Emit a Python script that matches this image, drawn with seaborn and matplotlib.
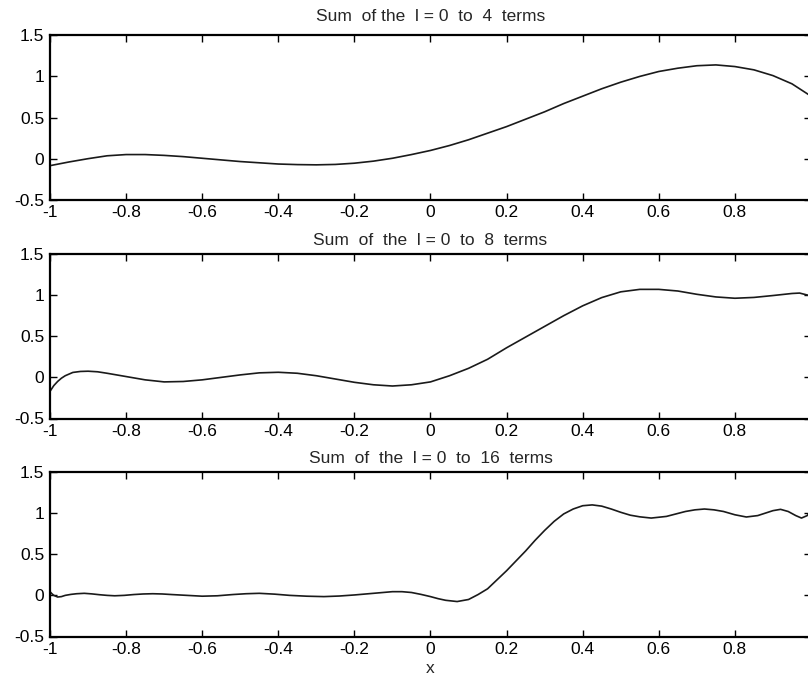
import numpy as np
import pandas as pd
import matplotlib
matplotlib.use("Agg")
import matplotlib.pyplot as plt
import seaborn as sns

# ---- data ----
x4 = [-1.0, -0.95, -0.9, -0.85, -0.8, -0.75, -0.7, -0.65, -0.6, -0.55, -0.5, -0.45,
      -0.4, -0.35, -0.3, -0.25, -0.2, -0.15, -0.1, -0.05, 0.0, 0.05, 0.1, 0.15, 0.2,
      0.25, 0.3, 0.35, 0.4, 0.45, 0.5, 0.55, 0.6, 0.65, 0.7, 0.75, 0.8, 0.85, 0.9,
      0.95, 1.0]
y4 = [-0.085, -0.04, 0.0, 0.035, 0.05, 0.05, 0.04, 0.025, 0.005, -0.015, -0.035, -0.05,
      -0.065, -0.072, -0.075, -0.07, -0.055, -0.03, 0.005, 0.05, 0.10, 0.16, 0.23, 0.31, 0.39,
      0.48, 0.57, 0.67, 0.76, 0.85, 0.93, 1.00, 1.06, 1.10, 1.13, 1.14, 1.12, 1.08, 1.01,
      0.91, 0.76]

x8 = [-1.0, -0.99, -0.98, -0.97, -0.96, -0.94, -0.92, -0.9, -0.875, -0.85, -0.8, -0.75,
      -0.7, -0.65, -0.6, -0.55, -0.5, -0.45, -0.4, -0.35, -0.3, -0.25, -0.2, -0.15, -0.1,
      -0.05, 0.0, 0.05, 0.1, 0.15, 0.2, 0.25, 0.3, 0.35, 0.4, 0.45, 0.5, 0.55, 0.6, 0.65,
      0.7, 0.75, 0.8, 0.85, 0.9, 0.95, 0.97, 1.0]
y8 = [-0.17, -0.1, -0.05, -0.01, 0.02, 0.06, 0.072, 0.075, 0.068, 0.05, 0.01, -0.03,
      -0.055, -0.05, -0.03, 0.0, 0.03, 0.055, 0.062, 0.05, 0.02, -0.02, -0.06, -0.09, -0.105,
      -0.09, -0.055, 0.02, 0.11, 0.22, 0.36, 0.49, 0.62, 0.75, 0.87, 0.97, 1.04, 1.07, 1.07, 1.05,
      1.01, 0.978, 0.962, 0.972, 0.995, 1.02, 1.025, 0.99]

x16 = [-1.0, -0.995, -0.99, -0.98, -0.97, -0.96, -0.945, -0.93, -0.91, -0.89, -0.87, -0.85,
       -0.83, -0.805, -0.78, -0.755, -0.73, -0.705, -0.68, -0.64, -0.6, -0.56, -0.52, -0.485,
       -0.45, -0.41, -0.37, -0.325, -0.28, -0.24, -0.2, -0.15, -0.1, -0.075, -0.05, -0.025,
       0.0, 0.02, 0.04, 0.07, 0.1, 0.125, 0.15, 0.175, 0.2, 0.225, 0.25, 0.275, 0.3, 0.325,
       0.35, 0.375, 0.4, 0.425, 0.45, 0.475, 0.5, 0.525, 0.55, 0.58, 0.62, 0.645, 0.67,
       0.695, 0.72, 0.745, 0.77, 0.8, 0.83, 0.86, 0.88, 0.9, 0.92, 0.94, 0.96, 0.975, 0.99,
       1.0]
y16 = [0.045, 0.02, 0.0, -0.02, -0.015, 0.0, 0.012, 0.02, 0.025, 0.018, 0.008, 0.0,
       -0.005, 0.0, 0.01, 0.017, 0.02, 0.017, 0.01, 0.0, -0.01, -0.005, 0.01, 0.02,
       0.025, 0.015, 0.0, -0.01, -0.015, -0.008, 0.005, 0.025, 0.045, 0.045, 0.035, 0.012,
       -0.015, -0.04, -0.06, -0.075, -0.05, 0.01, 0.08, 0.19, 0.30, 0.42, 0.54, 0.67, 0.79, 0.90,
       0.99, 1.05, 1.09, 1.10, 1.085, 1.05, 1.01, 0.975, 0.955, 0.94, 0.96, 0.99, 1.02,
       1.04, 1.05, 1.04, 1.02, 0.98, 0.953, 0.97, 1.0, 1.03, 1.046, 1.02, 0.97,
       0.94, 0.97, 1.03]

titles = ["Sum  of the  l = 0  to  4  terms",
          "Sum  of  the  l = 0  to  8  terms",
          "Sum  of  the  l = 0  to  16  terms"]
xticks = [-1, -0.8, -0.6, -0.4, -0.2, 0, 0.2, 0.4, 0.6, 0.8, 1]
xticklabels = ["-1", "-0.8", "-0.6", "-0.4", "-0.2", "0", "0.2", "0.4", "0.6", "0.8", ""]
yticks = [-0.5, 0, 0.5, 1, 1.5]
yticklabels = ["-0.5", "0", "0.5", "1", "1.5"]

sns.set_style("ticks")
plt.rcParams['font.family'] = ['Liberation Sans', 'DejaVu Sans']
plt.rcParams['font.size'] = 12

fig = plt.figure(figsize=(8.08, 6.8), dpi=100)
W, H = 808.0, 680.0
left, right = 50.0, 811.0
tops = [35.3, 254.0, 472.0]
hgt = 164.5
title_pads = [10, 6.5, 6.5]

series = [(x4, y4), (x8, y8), (x16, y16)]
for i, ((xs, ys), top) in enumerate(zip(series, tops)):
    ax = fig.add_axes([left / W, (H - top - hgt) / H, (right - left) / W, hgt / H])
    df = pd.DataFrame({"x": xs, "y": ys})
    sns.lineplot(data=df, x="x", y="y", ax=ax, color="#1a1a1a", linewidth=1.2,
                 estimator=None, sort=False)
    ax.set_xlim(-1, 1)
    ax.set_ylim(-0.5, 1.5)
    ax.set_xticks(xticks)
    ax.set_xticklabels(xticklabels, fontsize=12.5)
    ax.set_yticks(yticks)
    ax.set_yticklabels(yticklabels, fontsize=12.5)
    ax.tick_params(direction="in", length=5, width=1.0, top=True, right=True,
                   colors="black")
    ax.tick_params(axis="x", pad=4)
    ax.tick_params(axis="y", pad=4)
    for sp in ax.spines.values():
        sp.set_linewidth(1.6)
        sp.set_color("black")
        sp.set_visible(True)
    ax.set_title(titles[i], fontsize=12.5, pad=title_pads[i])
    ax.set_ylabel("")
    if i == 2:
        ax.set_xlabel("x", fontsize=12.5, labelpad=3)
    else:
        ax.set_xlabel("")

fig.savefig("out.png", dpi=100)
